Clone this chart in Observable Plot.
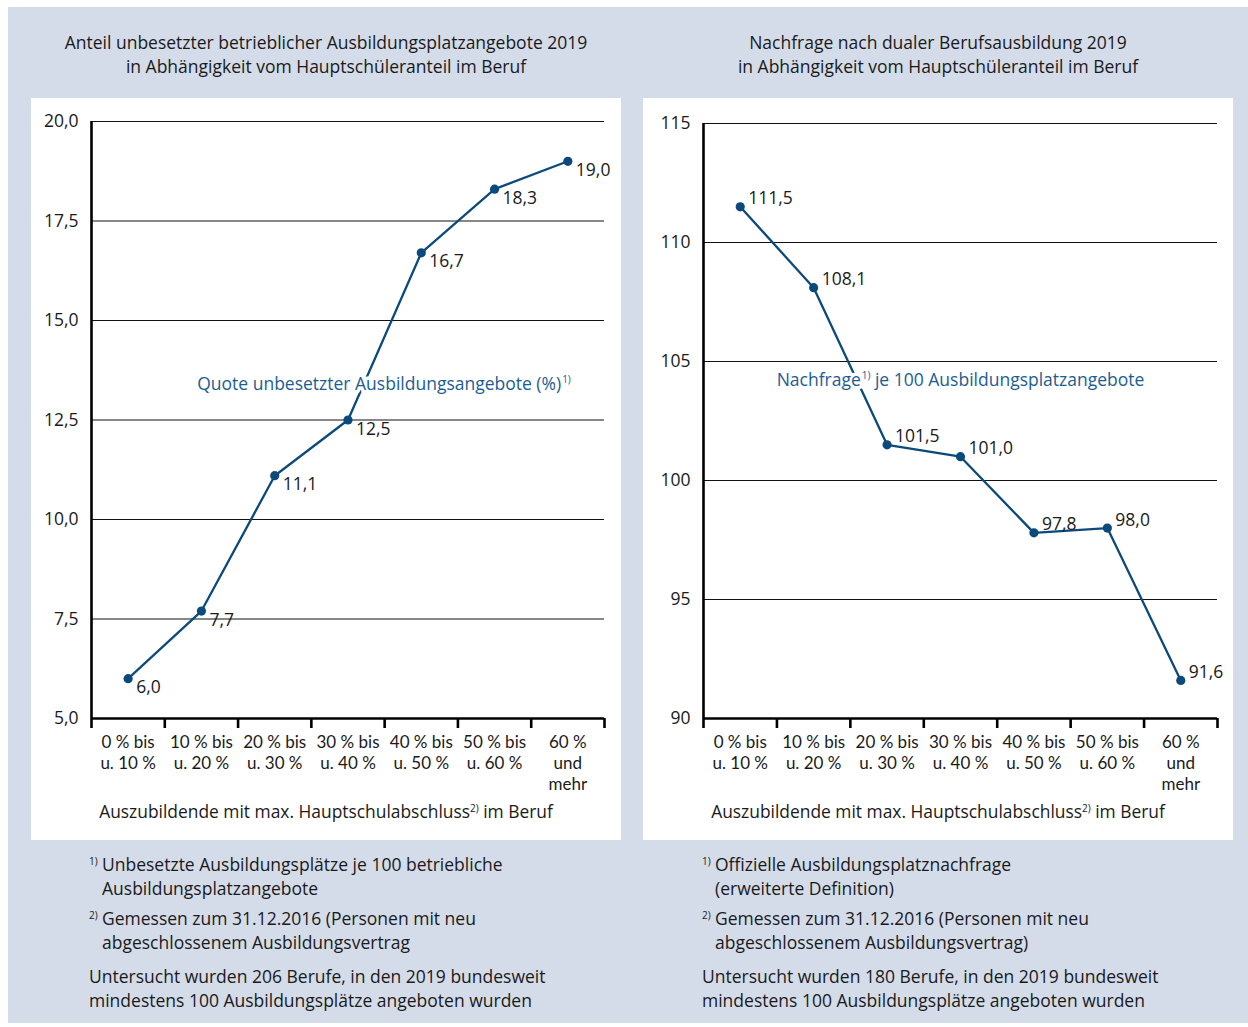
<!DOCTYPE html>
<html>
<head>
<meta charset="utf-8">
<script src="https://cdn.jsdelivr.net/npm/d3@7"></script>
<script src="https://cdn.jsdelivr.net/npm/@observablehq/plot@0.6"></script>
<style>
  html, body { margin: 0; padding: 0; background: #fff; }
  body { width: 1248px; height: 1027px; position: relative; overflow: hidden;
         font-family: "Open Sans", Lato, sans-serif; color: #1a1a1a; }
  #bg { position: absolute; left: 8px; top: 7px; width: 1240px; height: 1016px; background: #d4dcea; }
  .title { position: absolute; top: 30px; width: 620px; text-align: center; font-size: 17.5px; line-height: 24px; }
  .panel { position: absolute; top: 98px; width: 590px; height: 742px; background: #fff; }
  .panel svg { display: block; }
  .xlabel { position: absolute; top: 800px; width: 590px; text-align: center; font-size: 17.4px; line-height: 22px; }
  sup { font-size: 10px; vertical-align: 6px; line-height: 0; }
  .notes { position: absolute; top: 852px; font-size: 17.5px; line-height: 24px; }
  .notes .fn { position: relative; padding-left: 13px; margin-bottom: 6px; }
  .notes .fn sup { position: absolute; left: 0; top: 9px; }
  .notes .last { margin-top: 10px; }
</style>
</head>
<body>
<div id="bg"></div>
<div class="title" style="left:16px">Anteil unbesetzter betrieblicher Ausbildungsplatzangebote 2019<br>in Abhängigkeit vom Hauptschüleranteil im Beruf</div>
<div class="title" style="left:628px">Nachfrage nach dualer Berufsausbildung 2019<br>in Abhängigkeit vom Hauptschüleranteil im Beruf</div>
<div class="panel" id="left" style="left:31px"></div>
<div class="panel" id="right" style="left:643px"></div>
<div class="xlabel" style="left:31px">Auszubildende mit max. Hauptschulabschluss<sup>2)</sup> im Beruf</div>
<div class="xlabel" style="left:643px">Auszubildende mit max. Hauptschulabschluss<sup>2)</sup> im Beruf</div>
<div class="notes" style="left:89px">
  <div class="fn"><sup>1)</sup>Unbesetzte Ausbildungsplätze je 100 betriebliche<br>Ausbildungsplatzangebote</div>
  <div class="fn" style="margin-bottom:0"><sup>2)</sup>Gemessen zum 31.12.2016 (Personen mit neu<br>abgeschlossenem Ausbildungsvertrag</div>
  <div class="last">Untersucht wurden 206 Berufe, in den 2019 bundesweit<br>mindestens 100 Ausbildungsplätze angeboten wurden</div>
</div>
<div class="notes" style="left:702px">
  <div class="fn"><sup>1)</sup>Offizielle Ausbildungsplatznachfrage<br>(erweiterte Definition)</div>
  <div class="fn" style="margin-bottom:0"><sup>2)</sup>Gemessen zum 31.12.2016 (Personen mit neu<br>abgeschlossenem Ausbildungsvertrag)</div>
  <div class="last">Untersucht wurden 180 Berufe, in den 2019 bundesweit<br>mindestens 100 Ausbildungsplätze angeboten wurden</div>
</div>
<script>
const categories = ["0 % bis\nu. 10 %", "10 % bis\nu. 20 %", "20 % bis\nu. 30 %", "30 % bis\nu. 40 %", "40 % bis\nu. 50 %", "50 % bis\nu. 60 %", "60 %\nund\nmehr"];
const quoteValues = [6.0, 7.7, 11.1, 12.5, 16.7, 18.3, 19.0];
const nachfrageValues = [111.5, 108.1, 101.5, 101.0, 97.8, 98.0, 91.6];
const leftTicks = [5, 7.5, 10, 12.5, 15, 17.5, 20];
const rightTicks = [90, 95, 100, 105, 110, 115];
const leftSeriesLabel = "Quote unbesetzter Ausbildungsangebote (%)¹⁾";
const rightSeriesLabel = "Nachfrage¹⁾ je 100 Ausbildungsplatzangebote";

const BLUE = "#0c4a7c";
const LABELBLUE = "#1c5d91";
const FONT = "'Open Sans', Lato, sans-serif";
const comma = (digits) => (d) => d3.format(`.${digits}f`)(d).replace(".", ",");

function makeChart({values, ticks, domain, tickDigits, marginTop, marginRight, labelDy, seriesLabel, seriesDx, seriesDy}) {
  const data = categories.map((c, i) => ({i, c, v: values[i]}));
  const boundaries = d3.range(categories.length + 1);
  const labelOpts = {frameAnchor: "middle", text: d => d, dx: seriesDx, dy: seriesDy, fontSize: 17.5};
  const svg = Plot.plot({
    width: 590, height: 700,
    marginLeft: 60, marginRight, marginTop, marginBottom: 80,
    style: {fontFamily: FONT, fontSize: "17px", color: "#1a1a1a", background: "transparent", overflow: "visible"},
    x: {type: "linear", domain: [0, categories.length]},
    y: {domain, axis: null},
    marks: [
      Plot.ruleY(ticks.slice(1), {stroke: "#111", strokeWidth: 1.1}),
      Plot.axisY({ticks, tickSize: 0, tickPadding: 13, tickFormat: comma(tickDigits), label: null, fontSize: 17.5}),
      Plot.axisX({ticks: boundaries, tickSize: 10, tickFormat: () => "", label: null, stroke: "#000", strokeWidth: 2.6}),
      Plot.ruleX([0], {stroke: "#000", strokeWidth: 2.6}),
      Plot.ruleY([domain[0]], {stroke: "#000", strokeWidth: 2.6}),
      Plot.text(data, {x: d => d.i + 0.5, frameAnchor: "bottom", text: "c", lineAnchor: "top", dy: 15, lineHeight: 1.22, fontSize: 17, fontFamily: "Lato, 'Open Sans', sans-serif", fill: "#1a1a1a"}),
      Plot.line(data, {x: d => d.i + 0.5, y: "v", stroke: BLUE, strokeWidth: 2.3}),
      Plot.dot(data, {x: d => d.i + 0.5, y: "v", r: 4.6, fill: BLUE, stroke: null}),
      Plot.text(data, {x: d => d.i + 0.5, y: "v", text: d => comma(1)(d.v), textAnchor: "start", dx: 8, dy: labelDy, fontSize: 17.5, fill: "#1a1a1a"}),
      Plot.text([seriesLabel], {...labelOpts, fill: "white", stroke: "white", strokeWidth: 7}),
      Plot.text([seriesLabel], {...labelOpts, fill: LABELBLUE})
    ]
  });
  // superscript footnote markers
  d3.select(svg).selectAll("text").each(function() {
    const t = this.textContent;
    if (t.includes("¹⁾")) {
      const parts = t.split("¹⁾");
      const sel = d3.select(this);
      sel.text(null);
      sel.append("tspan").text(parts[0]);
      sel.append("tspan").attr("dx", 1).attr("dy", -7).attr("font-size", 10).text("1)");
      if (parts[1]) sel.append("tspan").attr("dy", 7).text(parts[1]);
    }
  });
  return svg;
}

document.getElementById("left").append(makeChart({
  values: quoteValues, ticks: leftTicks, domain: [5, 20], tickDigits: 1,
  marginTop: 23, marginRight: 17, labelDy: 9,
  seriesLabel: leftSeriesLabel, seriesDx: 36, seriesDy: -36
}));
document.getElementById("right").append(makeChart({
  values: nachfrageValues, ticks: rightTicks, domain: [90, 115], tickDigits: 0,
  marginTop: 25, marginRight: 16, labelDy: -8,
  seriesLabel: rightSeriesLabel, seriesDx: 0, seriesDy: -41
}));
</script>
</body>
</html>
